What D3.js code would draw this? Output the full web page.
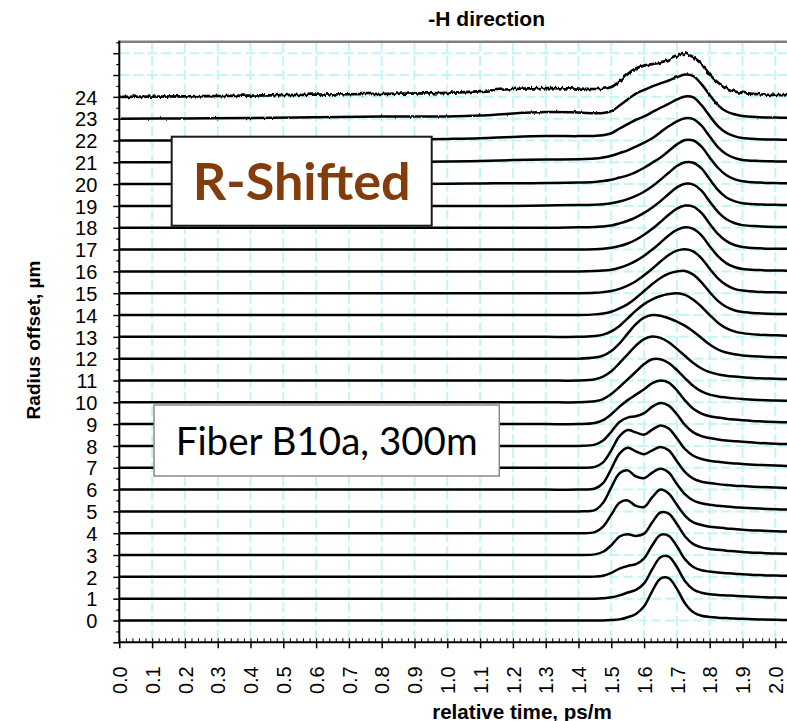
<!DOCTYPE html>
<html>
<head>
<meta charset="utf-8">
<script src="https://cdn.jsdelivr.net/npm/d3@7"></script>
<style>
  html, body { margin: 0; padding: 0; background: #ffffff; }
  svg { display: block; }
  .ax text { font-family: "Liberation Sans", Arial, Helvetica, sans-serif; }
</style>
</head>
<body>
<svg id="chart" width="787" height="721"></svg>
<script>
// Sample times (ps/m) shared by every trace
const times = [0, 0.2, 0.4, 0.6, 0.8, 1.0, 1.1, 1.2, 1.3, 1.4, 1.45, 1.475,
  1.5, 1.525, 1.55, 1.575, 1.6, 1.625, 1.65, 1.675, 1.7, 1.725, 1.75, 1.775,
  1.8, 1.825, 1.85, 1.875, 1.9, 1.95, 2.0, 2.05];

// Radius offsets (µm), one trace per offset
const offsets = [0, 1, 2, 3, 4, 5, 6, 7, 8, 9, 10, 11, 12, 13, 14, 15, 16, 17, 18, 19, 20, 21, 22, 23, 24];

// Normalised pulse amplitude of each trace at the sample times
const r0  = [0,0,0,0,0,0,0,0,0,0, 0,0, 0.02,0.05,0.15,0.3,0.65,1.35,1.92,1.94,1.45,0.78,0.38,0.22,0.16,0.13,0.11,0.09,0.08, 0.05,0.03,0.02];
const r1  = [0,0,0,0,0,0,0,0,0,0, 0,0.02, 0.06,0.15,0.28,0.4,0.7,1.35,1.9,1.93,1.45,0.8,0.42,0.27,0.2,0.17,0.15,0.13,0.11, 0.08,0.05,0.04];
const r2  = [0,0,0,0,0,0,0,0,0,0, 0.01,0.05, 0.18,0.38,0.5,0.58,0.85,1.45,1.92,1.88,1.4,0.8,0.45,0.3,0.24,0.2,0.17,0.14,0.12, 0.08,0.06,0.05];
const r3  = [0,0,0,0,0,0,0,0,0,0, 0.03,0.15, 0.45,0.85,0.95,0.87,0.98,1.5,1.95,1.9,1.42,0.85,0.5,0.35,0.28,0.24,0.2,0.17,0.14, 0.1,0.07,0.06];
const r4  = [0,0,0,0,0,0,0,0,0,0, 0.05,0.3, 0.85,1.4,1.5,1.25,1.2,1.65,2.0,1.82,1.3,0.8,0.5,0.38,0.3,0.26,0.22,0.19,0.16, 0.12,0.09,0.07];
const r5  = [0,0,0,0,0,0,0,0,0,0, 0.06,0.4, 1.1,1.75,1.88,1.6,1.52,1.78,1.95,1.78,1.25,0.78,0.5,0.37,0.3,0.26,0.22,0.19,0.17, 0.13,0.1,0.08];
const r6  = [0,0,0,0,0,0,0,0,0,0, 0.05,0.3, 0.95,1.65,1.92,1.75,1.62,1.8,1.95,1.8,1.3,0.8,0.5,0.36,0.3,0.25,0.21,0.18,0.16, 0.12,0.09,0.07];
const r7  = [0,0,0,0,0,0,0,0,0,0, 0.04,0.25, 0.8,1.45,1.73,1.62,1.52,1.75,1.94,1.8,1.35,0.85,0.55,0.4,0.32,0.27,0.23,0.2,0.17, 0.13,0.1,0.08];
const r8  = [0,0,0,0,0,0,0,0,0,0, 0.06,0.25, 0.65,1.1,1.3,1.36,1.5,1.8,1.97,1.85,1.45,0.95,0.62,0.45,0.36,0.3,0.25,0.22,0.19, 0.14,0.1,0.08];
const r9  = [0,0,0,0,0,0,0,0,0,0, 0.05,0.18, 0.45,0.8,1.1,1.35,1.6,1.88,2.0,1.9,1.55,1.08,0.7,0.48,0.36,0.3,0.25,0.21,0.18, 0.13,0.1,0.08];
const r10 = [0,0,0,0,0,0,0,0,0,0, 0.05,0.15, 0.38,0.7,1.05,1.4,1.75,1.97,1.97,1.8,1.48,1.1,0.75,0.5,0.35,0.27,0.22,0.18,0.15, 0.11,0.08,0.07];
const r11 = [0,0,0,0,0,0,0,0,0,0, 0.06,0.18, 0.42,0.8,1.2,1.6,1.9,2.02,1.95,1.75,1.45,1.12,0.8,0.55,0.38,0.28,0.22,0.18,0.15, 0.1,0.08,0.06];
const r12 = [0,0,0,0,0,0,0,0,0,0, 0.05,0.14, 0.35,0.7,1.15,1.58,1.88,2.0,1.97,1.85,1.7,1.5,1.25,0.95,0.65,0.42,0.28,0.2,0.15, 0.1,0.07,0.05];
const r13 = [0,0,0,0,0,0,0,0,0,0, 0.04,0.1, 0.25,0.5,0.85,1.2,1.5,1.72,1.87,1.96,2.0,1.92,1.7,1.38,1.0,0.65,0.4,0.25,0.17, 0.1,0.07,0.05];
const r14 = [0,0,0,0,0,0,0,0,0,0, 0.03,0.07, 0.15,0.3,0.5,0.78,1.1,1.42,1.7,1.9,2.0,2.02,1.85,1.5,1.05,0.65,0.38,0.22,0.14, 0.08,0.05,0.04];
const r15 = [0,0,0,0,0,0,0,0,0,0, 0.02,0.05, 0.1,0.2,0.35,0.55,0.82,1.12,1.45,1.75,1.95,2.02,1.92,1.6,1.12,0.68,0.38,0.2,0.12, 0.06,0.04,0.03];
const r16 = [0,0,0,0,0,0,0,0,0,0, 0.02,0.04, 0.08,0.17,0.3,0.48,0.72,1.0,1.32,1.65,1.9,2.02,1.95,1.65,1.15,0.7,0.38,0.2,0.11, 0.06,0.04,0.03];
const r17 = [0,0,0,0,0,0,0,0,0,0, 0.02,0.04, 0.08,0.16,0.28,0.45,0.68,0.95,1.27,1.6,1.88,2.02,1.97,1.68,1.18,0.72,0.4,0.21,0.12, 0.06,0.04,0.03];
const r18 = [0,0,0,0,0,0,0,0,0,0.02, 0.03,0.06, 0.1,0.2,0.32,0.48,0.68,0.93,1.22,1.55,1.85,2.02,1.98,1.7,1.2,0.73,0.4,0.22,0.12, 0.07,0.04,0.03];
const r19 = [0,0,0,0,0,0,0,0,0.02,0.04, 0.06,0.08, 0.12,0.2,0.31,0.46,0.65,0.9,1.2,1.52,1.83,2.0,1.98,1.72,1.22,0.74,0.4,0.22,0.12, 0.07,0.05,0.04];
const r20 = [0,0,0,0,0,0.02,0.03,0.04,0.05,0.07, 0.1,0.14, 0.2,0.3,0.4,0.55,0.75,0.98,1.22,1.52,1.82,2.02,2.0,1.72,1.22,0.75,0.42,0.23,0.13, 0.07,0.05,0.04];
const r21 = [0,0,0,0,0.01,0.04,0.06,0.1,0.13,0.14, 0.17,0.22, 0.3,0.42,0.55,0.72,0.9,1.1,1.38,1.65,1.88,2.02,1.98,1.68,1.18,0.7,0.38,0.2,0.11, 0.06,0.04,0.03];
const r22 = [0,0,0,0.01,0.03,0.07,0.1,0.16,0.2,0.2, 0.21,0.24, 0.33,0.55,0.75,0.95,1.1,1.3,1.5,1.68,1.88,2.02,1.98,1.62,1.12,0.66,0.36,0.2,0.11, 0.06,0.04,0.03];
const r23 = [0,0.01,0.03,0.06,0.1,0.1,0.14,0.24,0.3,0.28, 0.25,0.26, 0.35,0.6,0.88,1.15,1.32,1.48,1.62,1.75,1.9,2.02,1.95,1.58,1.08,0.62,0.34,0.2,0.12, 0.07,0.05,0.04];
const r24 = [0,0.02,0.06,0.1,0.14,0.18,0.26,0.36,0.4,0.38, 0.36,0.37, 0.45,0.7,1.05,1.3,1.43,1.5,1.58,1.7,1.86,1.98,1.82,1.5,1.02,0.66,0.42,0.26,0.18, 0.12,0.09,0.07];

const traceValues = [r0, r1, r2, r3, r4, r5, r6, r7, r8, r9, r10, r11, r12,
  r13, r14, r15, r16, r17, r18, r19, r20, r21, r22, r23, r24];

// Axis ticks
const xTickValues = [0.0, 0.1, 0.2, 0.3, 0.4, 0.5, 0.6, 0.7, 0.8, 0.9, 1.0,
  1.1, 1.2, 1.3, 1.4, 1.5, 1.6, 1.7, 1.8, 1.9, 2.0];
const yTickValues = [-1, 0, 1, 2, 3, 4, 5, 6, 7, 8, 9, 10, 11, 12, 13, 14, 15,
  16, 17, 18, 19, 20, 21, 22, 23, 24, 25, 26];
const yLabelValues = offsets;

// Texts
const titleText = "-H direction";
const xTitle = "relative time, ps/m";
const yTitle = "Radius offset, µm";
const noteShift = "R-Shifted";
const noteFiber = "Fiber B10a, 300m";

// ---------------------------------------------------------------------------
const svg = d3.select("#chart");
const W = 787, H = 721;
const plotLeft = 119.3, plotTop = 42.3, plotBottom = 642.3, plotRight = W;

const x = d3.scaleLinear().domain([0, 2]).range([plotLeft, 775.3]);
const y = d3.scaleLinear().domain([-1, 26.5]).range([plotBottom, plotTop]);

// Noise-like roughness for the weak-signal traces
const defs = svg.append("defs");
[["jitA", 4.5], ["jitB", 2.4], ["jitC", 1.3]].forEach(([id, s], i) => {
  const f = defs.append("filter").attr("id", id)
    .attr("x", "-1%").attr("y", "-40%").attr("width", "102%").attr("height", "180%");
  f.append("feTurbulence").attr("type", "fractalNoise")
    .attr("baseFrequency", "0.42 0.06").attr("numOctaves", 2).attr("seed", 5 + i)
    .attr("result", "n");
  f.append("feColorMatrix").attr("in", "n").attr("type", "matrix")
    .attr("values", "0 0 0 0 0.5  0 1 0 0 0  0 0 0 0 0  0 0 0 0 1").attr("result", "m");
  f.append("feDisplacementMap").attr("in", "SourceGraphic").attr("in2", "m")
    .attr("scale", s).attr("xChannelSelector", "R").attr("yChannelSelector", "G");
});

// Grid
const grid = svg.append("g").attr("stroke", "#c2f6f6").attr("stroke-width", 2)
  .attr("stroke-dasharray", "10,4");
grid.selectAll("line.v").data(xTickValues.filter(d => d > 0)).join("line")
  .attr("class", "v")
  .attr("x1", d => x(d)).attr("x2", d => x(d)).attr("y1", plotTop).attr("y2", plotBottom);
grid.selectAll("line.h").data(yTickValues.filter(d => d > -1)).join("line")
  .attr("class", "h")
  .attr("x1", plotLeft).attr("x2", plotRight).attr("y1", d => y(d)).attr("y2", d => y(d));

// Traces
const line = d3.line()
  .x(d => x(d[0]))
  .y(d => y(d[1]))
  .curve(d3.curveCatmullRom.alpha(0.5));

svg.append("g").selectAll("path").data(offsets).join("path")
  .attr("d", k => line(times.map((t, i) => [t, k + traceValues[k][i]])))
  .attr("fill", "none").attr("stroke", "#000")
  .attr("stroke-width", k => k === 24 ? 2.7 : 2.5)
  .attr("stroke-linejoin", "round")
  .attr("filter", k => k === 24 ? "url(#jitA)" : k === 23 ? "url(#jitB)" : k === 22 ? "url(#jitC)" : null);

// Annotation boxes
function noteBox(x0, y0, w, h, stroke, sw, txt, baseline, fam, weight, color, targetW) {
  const g = svg.append("g");
  g.append("rect").attr("x", x0).attr("y", y0).attr("width", w).attr("height", h)
    .attr("fill", "#fff").attr("stroke", stroke).attr("stroke-width", sw);
  const t = g.append("text").attr("x", x0 + w / 2).attr("y", baseline)
    .attr("text-anchor", "middle").attr("font-family", fam)
    .attr("font-weight", weight).attr("fill", color).attr("font-size", 40).text(txt);
  const len = t.node().getComputedTextLength();
  t.attr("font-size", 40 * targetW / len);
}
noteBox(171.7, 136.7, 260, 89, "#1c1c1c", 2, noteShift, 200,
  "Lato, 'Open Sans', sans-serif", 700, "#843c0c", 218);
noteBox(154, 405, 345.3, 71, "#8a8a8a", 1.5, noteFiber, 455,
  "Lato, 'Open Sans', sans-serif", 400, "#000", 302);

// Axes
const fmt = d3.format(".1f");
const gx = svg.append("g").attr("class", "ax").attr("transform", `translate(0,${plotBottom})`)
  .call(d3.axisBottom(x).tickValues(xTickValues).tickSize(6).tickFormat(fmt));
gx.select(".domain").remove();
gx.selectAll(".tick line").attr("stroke", "#000").attr("stroke-width", 1.5);
gx.selectAll(".tick text")
  .attr("transform", "rotate(-90)")
  .attr("x", -24).attr("y", 0).attr("dy", "0.36em")
  .attr("text-anchor", "end").attr("font-size", 20).attr("fill", "#000");

const minorX = d3.range(0, 103).map(i => i * 0.02).filter(v => v <= 2.04);
const gxm = svg.append("g").attr("class", "ax").attr("transform", `translate(0,${plotBottom})`)
  .call(d3.axisBottom(x).tickValues(minorX).tickSize(-4).tickFormat(""));
gxm.select(".domain").remove();
gxm.selectAll(".tick line").attr("stroke", "#000").attr("stroke-width", 1);

const gy = svg.append("g").attr("class", "ax").attr("transform", `translate(${plotLeft},0)`)
  .call(d3.axisLeft(y).tickValues(yTickValues).tickSize(6).tickPadding(16)
    .tickFormat(d => yLabelValues.includes(d) ? String(d) : ""));
gy.select(".domain").remove();
gy.selectAll(".tick line").attr("stroke", "#000").attr("stroke-width", 1.5);
gy.selectAll(".tick text").attr("font-size", 20).attr("fill", "#000").attr("dy", "0.36em");

const minorY = yTickValues.map(v => v + 0.5);
const gym = svg.append("g").attr("class", "ax").attr("transform", `translate(${plotLeft},0)`)
  .call(d3.axisLeft(y).tickValues(minorY).tickSize(3).tickFormat(""));
gym.select(".domain").remove();
gym.selectAll(".tick line").attr("stroke", "#000").attr("stroke-width", 1.2);

// Frame lines
svg.append("line").attr("x1", plotLeft - 1).attr("x2", plotRight).attr("y1", plotTop - 0.5).attr("y2", plotTop - 0.5)
  .attr("stroke", "#808080").attr("stroke-width", 2.6);
svg.append("line").attr("x1", plotLeft).attr("x2", plotLeft).attr("y1", plotTop - 1.5).attr("y2", plotBottom + 1)
  .attr("stroke", "#000").attr("stroke-width", 2);
svg.append("line").attr("x1", plotLeft - 1).attr("x2", plotRight).attr("y1", plotBottom).attr("y2", plotBottom)
  .attr("stroke", "#000").attr("stroke-width", 2);

// Titles
const ttl = svg.append("g").attr("class", "ax").attr("font-weight", "bold").attr("fill", "#000");
ttl.append("text").attr("x", 486.7).attr("y", 25.5).attr("text-anchor", "middle")
  .attr("font-size", 21).text(titleText);
ttl.append("text").attr("x", 522).attr("y", 718.5).attr("text-anchor", "middle")
  .attr("font-size", 20.6).text(xTitle);
ttl.append("text").attr("transform", "translate(40,340) rotate(-90)")
  .attr("text-anchor", "middle").attr("font-size", 19).text(yTitle);
</script>
</body>
</html>
